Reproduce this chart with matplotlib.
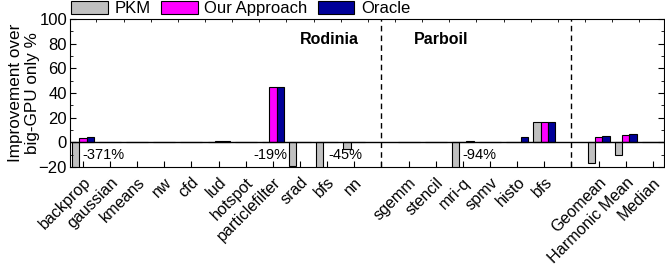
import numpy as np
import matplotlib.pyplot as plt
from matplotlib.ticker import MultipleLocator

plt.rcParams['font.family'] = ['Liberation Sans', 'DejaVu Sans']

# Kategorien ('' = Luecke zwischen den Gruppen)
labels = ['backprop', 'gaussian', 'kmeans', 'nw', 'cfd', 'lud', 'hotspot',
          'particlefilter', 'srad', 'bfs', 'nn', '',
          'sgemm', 'stencil', 'mri-q', 'spmv', 'histo', 'bfs', '',
          'Geomean', 'Harmonic Mean', 'Median']

# Werte (Improvement over big-GPU only %)
pkm = [-371, 0.3, 0.3, 0, 0.3, 0.5, 0.3, 0.3, -19, -45, -5, np.nan,
       0.3, 0.3, -94, 0.3, 0.3, 16.5, np.nan, -16.5, -10, 0]
ours = [3.5, 0.3, 0.3, 0, 0.3, 1.0, 0.3, 45, 0.3, 0.5, 0.3, np.nan,
        0.3, 0.3, 0.5, 0.3, 0.3, 16.5, np.nan, 4.5, 6.0, 0]
oracle = [4.0, 0.3, 0.3, 0, 0.3, 1.0, 0.3, 45, 0.3, 0.5, 0.3, np.nan,
          0.3, 0.3, 1.5, 0.3, 4.5, 16.5, np.nan, 5.0, 6.5, 0]

# Beschriftungen der abgeschnittenen Balken
notes = [('-371%', 0.0, 'left'), ('-19%', 7.55, 'right'),
         ('-45%', 9.05, 'left'), ('-94%', 13.97, 'left')]

x = np.arange(len(labels))
w = 0.27

fig = plt.figure(figsize=(6.65, 2.66), dpi=100)
ax = fig.add_axes([0.105, 0.372, 0.893, 0.557])

ax.bar(x - w, pkm, w, color='#c0c0c0', edgecolor='black', linewidth=0.8, label='PKM')
ax.bar(x, ours, w, color='#ff00ff', edgecolor='black', linewidth=0.8, label='Our Approach')
ax.bar(x + w, oracle, w, color='#000099', edgecolor='black', linewidth=0.8, label='Oracle')

ax.axhline(0, color='black', linewidth=1)
for gap in [11, 18]:
    ax.axvline(gap, color='black', linestyle=(0, (4, 3)), linewidth=1)

for txt, xp, ha in notes:
    ax.text(xp, -10, txt, ha=ha, va='center', fontsize=10.5)

ax.text(9.1, 83, 'Rodinia', ha='center', va='center', fontsize=11.5, fontweight='bold')
ax.text(13.2, 83, 'Parboil', ha='center', va='center', fontsize=11.5, fontweight='bold')

ax.set_xlim(-0.48, 21.4)
ax.set_ylim(-20, 100)
ax.set_xticks(x)
ax.set_xticklabels(labels, rotation=45, ha='right', rotation_mode='anchor', fontsize=11.6)
ax.xaxis.set_minor_locator(MultipleLocator(0.5))
ax.yaxis.set_major_locator(MultipleLocator(20))
ax.yaxis.set_minor_locator(MultipleLocator(10))
ax.tick_params(axis='y', which='both', direction='in', right=True, labelsize=12, pad=2)
ax.tick_params(axis='y', which='major', length=4)
ax.tick_params(axis='y', which='minor', length=2)
ax.tick_params(axis='x', which='major', direction='in', length=4, top=False, pad=5.5)
ax.tick_params(axis='x', which='minor', direction='in', length=2, bottom=False, top=True)
ax.set_ylabel('Improvement over\nbig-GPU only %', fontsize=12.3)
ax.yaxis.set_label_coords(-0.05, 0.5)

ax.legend(loc='lower left', bbox_to_anchor=(0.0, 1.005), ncol=3, frameon=False,
          fontsize=12, handlelength=2.2, handleheight=0.85, handletextpad=0.4,
          columnspacing=0.6, borderaxespad=0, borderpad=0.1)

plt.savefig('out.png', dpi=100)
